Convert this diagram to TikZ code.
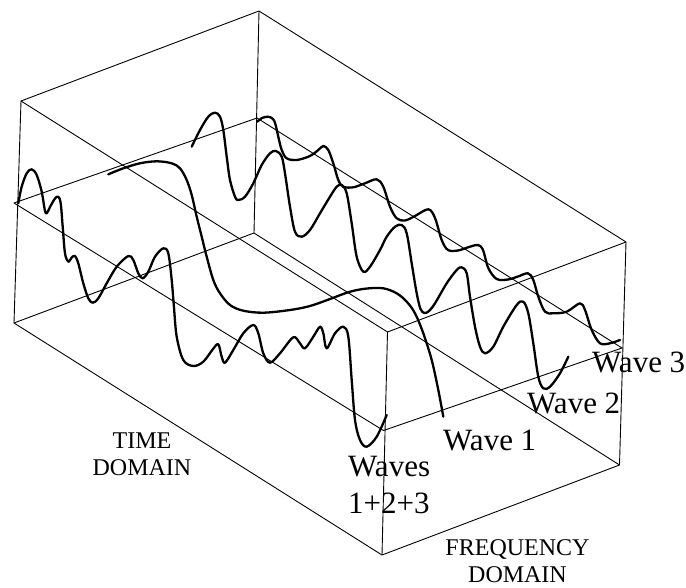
\documentclass[tikz,border=0pt]{standalone}
\usepackage{fontspec}
\setmainfont{Liberation Serif}
\begin{document}
\begin{tikzpicture}[x=1pt,y=-1pt,
  edge/.style={line width=0.9pt, line join=round},
  wave/.style={line width=2.3pt, line cap=round, line join=round},
  lab/.style={inner sep=0pt, font=\fontsize{31}{37.5}\selectfont},
  axlab/.style={inner sep=0pt, align=center, font=\fontsize{24}{27.5}\selectfont}]
\useasboundingbox (0,0) rectangle (686,587);
% box corners
\coordinate (TL) at (21,101);
\coordinate (TB) at (259,11);
\coordinate (TR) at (626,242);
\coordinate (TF) at (387.5,332);
\coordinate (BL) at (14,323);
\coordinate (BB) at (254,233);
\coordinate (BR) at (619.5,465);
\coordinate (BF) at (382,555);
\coordinate (ML) at (14,203);
\coordinate (MB) at (257,118);
\coordinate (MR) at (622,348);
\coordinate (MF) at (383.5,430.5);
% box edges
\draw[edge] (TL) -- (TB) -- (TR) -- (TF) -- cycle;
\draw[edge] (BL) -- (BB) -- (BR) -- (BF) -- cycle;
\draw[edge] (ML) -- (MB) -- (MR) -- (MF) -- cycle;
\draw[edge] (TL) -- (BL);
\draw[edge] (TB) -- (BB);
\draw[edge] (TR) -- (BR);
\draw[edge] (TF) -- (BF);
% waves 1+2+3
\draw[wave] plot[smooth, tension=0.55] coordinates {
(18.3,203.3) (21.7,186.7) (26.7,173.3) (31.7,169.3) (36.7,175) (41.7,191.7) (45,211) (47,213) (50,207) (55,198.5) (58.3,196.7) (60.7,203.3) (62.7,226.7) (65,253.3) (68.3,261.7) (71.7,257.5) (75,256) (78.3,263.3) (83.3,283.3) (88.3,298.3) (92.7,302.7) (98.3,298.3) (106.7,283.3) (116.7,266.7) (128.3,256) (133.3,260) (138.3,273.3) (142.7,278.3) (148.3,271.7) (155,256.7) (163.3,248.3) (168.3,253.3) (171.7,280) (173.8,305) (176.7,336.7) (183.3,360) (193.3,366) (203.3,361.7) (213,349) (218.3,344.3) (221.7,356.7) (225,362.7) (233.3,350) (243.3,333.3) (253.3,325) (258.3,333.3) (263.3,353.3) (270,362.7) (280,353.3) (293.3,337.3) (300,343.3) (305,348.3) (313.3,336.7) (320,326.7) (323.3,333.3) (326.7,348.3) (335,333.3) (343.3,326.7) (348.3,336.7) (351.7,380) (355,420) (360,440) (366.7,446.7) (376.7,436.7) (386.7,415)};
% wave 1
\draw[wave] plot[smooth, tension=0.55] coordinates {
(108.3,174.3) (123.3,168.3) (140,163.3) (156.7,161.3) (171.7,163.3) (180,168.3) (186.7,180) (191.7,195) (196.7,216.7) (201.7,236.7) (206.7,256.7) (213.3,280) (220,293.3) (230,305) (243.3,310.7) (263.3,312.7) (290,310) (310,306) (330,299) (350,291.7) (367,288.5) (383.3,288.3) (396.7,293.3) (406.7,301.7) (415,313.3) (423.3,333.3) (431.7,360) (438.3,390) (443.3,416.7)};
% wave 2
\draw[wave] plot[smooth, tension=0.55] coordinates {
(191.7,146.7) (200,130) (208.3,116.7) (215,112.7) (220,116.7) (223.3,130) (226.7,156.7) (230,180) (235,196.7) (238.3,200) (245,196.7) (253.3,183.3) (261.7,165) (270,153.3) (276,151) (281.7,156.7) (285,173.3) (290,206.7) (295,231.7) (301.7,236.7) (310,230) (320,213.3) (330,196.7) (336.7,186.7) (341.7,185) (346.7,193.3) (351.7,223.3) (356.7,256.7) (363.3,271.7) (370,266.7) (380,250) (386.7,236.7) (395,226.7) (401.7,225) (406.7,233.3) (411.7,263.3) (416.7,293.3) (420.5,309) (424.5,313) (429,311) (435,303.3) (446.7,283.3) (456.7,270) (461.7,267.3) (466.7,273.3) (470,296.7) (475,326.7) (480,346.7) (485,353.3) (493.3,346.7) (503.3,326.7) (516.7,305) (523.3,301.7) (528.3,313.3) (533.3,343.3) (538.3,376.7) (543.3,388.3) (550,386.7) (560,373.3) (568.3,356.7)};
% wave 3
\draw[wave] plot[smooth, tension=0.55] coordinates {
(257.3,121.7) (262,118) (268.3,116.7) (273,119) (275.5,124.5) (278.3,136.7) (281.7,150) (286.7,158.3) (296.7,160) (310,156) (318.3,150) (323.3,146) (328.3,150) (333.3,163.3) (338.3,180) (343.3,186.7) (353.3,187.3) (365,183.3) (376.7,179.3) (383.3,186.7) (390,206.7) (396.7,218.3) (405,220.5) (415,216) (428.3,209.3) (435,218) (441.7,240) (448,250) (458,250.5) (470,246.7) (478,245) (483,250) (488.3,268) (496.7,279) (508,279.5) (518,276.5) (528,273.3) (533.3,280) (538.3,296.7) (545,311.7) (553.3,313.3) (566.7,311.7) (580,303.3) (585,310) (591.7,330) (600,343.3) (610,343.3) (620,340)};
% labels
\node[lab, anchor=base west] (w1) at (443,450) {Wave 1};
\node[lab, anchor=base west] (w2) at (527,413) {Wave 2};
\node[lab, anchor=base west] (w3) at (592,372) {Wave 3};
\node[lab, align=left, anchor=north west] (wsum) at (348,455.5) {Waves\\1+2+3};
\node[axlab, anchor=north] (td) at (142,432.5) {TIME\\DOMAIN};
\node[axlab, anchor=north] (fd) at (517.5,539) {FREQUENCY\\DOMAIN};
\end{tikzpicture}
\end{document}
